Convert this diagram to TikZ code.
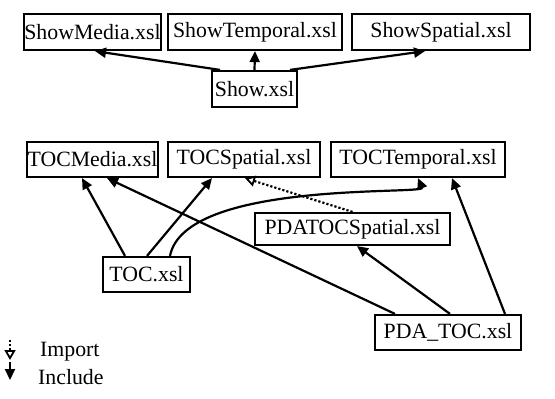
\documentclass[tikz,border=0pt]{standalone}
\usepackage{fontspec}
\setmainfont{Liberation Serif}
\usetikzlibrary{arrows.meta,calc}
\begin{document}
\begin{tikzpicture}[x=1pt,y=-1pt,
  box/.style={draw,line width=2.2pt,inner sep=0pt,font=\fontsize{21.8}{23}\selectfont},
  inc/.style={line width=2.2pt,-{Triangle[length=11pt,width=10pt]}},
  imp/.style={line width=2.2pt,dotted,-{Triangle[open,length=10pt,width=11pt,line width=1.8pt]}},
  lab/.style={anchor=west,inner sep=0pt,font=\fontsize{21.8}{23}\selectfont}]
\useasboundingbox (0,0) rectangle (555,399);
\node[box,minimum width=131pt,minimum height=36pt] (smedia) at (92.5,32) {ShowMedia.xsl};
\node[box,minimum width=174pt,minimum height=36pt] (stemp) at (255,32) {ShowTemporal.xsl};
\node[box,minimum width=178pt,minimum height=36pt] (sspat) at (441,32) {ShowSpatial.xsl};
\node[box,minimum width=85pt,minimum height=36pt] (show) at (254.5,89) {Show.xsl};
\node[box,minimum width=131pt,minimum height=35pt] (tmedia) at (92.5,159.5) {TOCMedia.xsl};
\node[box,minimum width=152pt,minimum height=35pt] (tspat) at (244,159.5) {TOCSpatial.xsl};
\node[box,minimum width=174pt,minimum height=35pt] (ttemp) at (418,159.5) {TOCTemporal.xsl};
\node[box,minimum width=195pt,minimum height=32pt] (pdaspat) at (352.5,229) {PDATOCSpatial.xsl};
\node[box,minimum width=87pt,minimum height=35pt] (toc) at (146.5,274.5) {TOC.xsl};
\node[box,minimum width=146pt,minimum height=35pt] (pdatoc) at (448,332.5) {PDA\_TOC.xsl};

\draw[inc] ($(show.north)+(-34.5,0)$) -- ($(smedia.south)+(2.5,0)$);
\draw[inc] (show.north) -- (stemp.south);
\draw[inc] ($(show.north)+(35.5,0)$) -- ($(sspat.south)+(-16,0)$);

\draw[inc] ($(toc.north)+(-21.5,0)$) -- ($(tmedia.south)+(-10.5,0)$);
\draw[inc] ($(toc.north)+(0.5,0)$) -- ($(tspat.south)+(-32,0)$);
\draw[inc] ($(toc.north)+(23.5,0)$) .. controls (185,180) and (425,195) .. (ttemp.south);
\draw[inc] ($(pdatoc.north)+(-53,0)$) -- ($(tmedia.south)+(14.5,0)$);
\draw[inc] ($(pdatoc.north)+(2,0)$) -- ($(pdaspat.south)+(4.5,0)$);
\draw[inc] ($(pdatoc.north)+(57,0)$) -- ($(ttemp.south)+(34,0)$);
\draw[imp] (pdaspat.north) -- ($(tspat.south)+(1,0)$);

\coordinate (i1) at (10,340);
\coordinate (i2) at (10,360);
\coordinate (c1) at (10,362);
\coordinate (c2) at (10,380);
\draw[imp] (i1) -- (i2);
\draw[inc] (c1) -- (c2);
\node[lab] (limp) at (40,352) {Import};
\node[lab] (linc) at (38,377) {Include};
\end{tikzpicture}
\end{document}
